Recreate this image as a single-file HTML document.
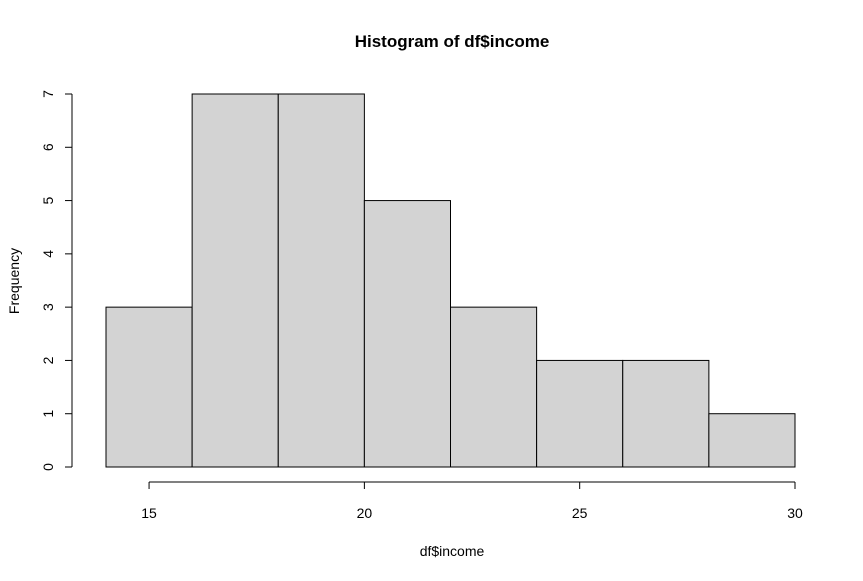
<!DOCTYPE html>
<html><head><meta charset="utf-8"><style>
body{margin:0;background:#fff;}
svg{display:block;font-family:"Liberation Sans",Arial,sans-serif;}
</style></head><body>
<svg id="chart" width="863" height="581" viewBox="0 0 863 581">
<rect width="863" height="581" fill="#fff"/>
<text x="452" y="47" text-anchor="middle" font-size="17" font-weight="bold">Histogram of df$income</text>
<text x="452" y="556" text-anchor="middle" font-size="14">df$income</text>
<text transform="translate(19,281) rotate(-90)" text-anchor="middle" font-size="14">Frequency</text>
<g id="bars"></g>
<g id="xaxis"></g>
<g id="yaxis"></g>
</svg>
<script>
const binEdges = [14,16,18,20,22,24,26,28,30];
const counts = [3,7,7,5,3,2,2,1];
const xTicks = [15,20,25,30];
const yTicks = [0,1,2,3,4,5,6,7];
const NS="http://www.w3.org/2000/svg";
const xs = v => 106 + (v-14)*(795-106)/16;
const ys = v => 467 - v*(467-94)/7;
function mk(tag,attrs,parent){const e=document.createElementNS(NS,tag);for(const k in attrs)e.setAttribute(k,attrs[k]);parent.appendChild(e);return e;}
const bars=document.getElementById('bars');
counts.forEach((c,i)=>{
  const r=mk('rect',{x:xs(binEdges[i]),y:ys(c),width:xs(binEdges[i+1])-xs(binEdges[i]),height:ys(0)-ys(c),fill:'#d3d3d3',stroke:'#000','stroke-width':1},bars);
  
  
});
const xa=document.getElementById('xaxis');
const xl=mk('line',{x1:xs(xTicks[0]),x2:xs(xTicks[xTicks.length-1]),y1:482,y2:482,stroke:'#000'},xa);


xTicks.forEach(t=>{
  const l=mk('line',{x1:xs(t),x2:xs(t),y1:482,y2:489,stroke:'#000'},xa);
  
  
  const tx=mk('text',{x:xs(t),y:518,'text-anchor':'middle','font-size':14},xa);
  tx.textContent=t;
  
  
});
const ya=document.getElementById('yaxis');
const yl=mk('line',{x1:72,x2:72,y1:ys(yTicks[0]),y2:ys(yTicks[yTicks.length-1]),stroke:'#000'},ya);


yTicks.forEach(t=>{
  const l=mk('line',{x1:65,x2:72,y1:ys(t),y2:ys(t),stroke:'#000'},ya);
  
  
  const tx=mk('text',{transform:'translate(53,'+ys(t)+') rotate(-90)','text-anchor':'middle','font-size':14},ya);
  tx.textContent=t;
  
  
});
</script>
</body></html>
